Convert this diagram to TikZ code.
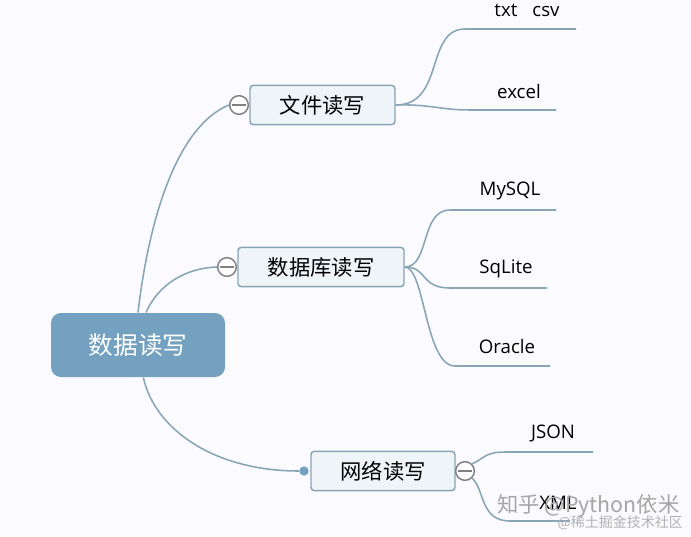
\documentclass[tikz,border=0pt]{standalone}
\usepackage{fontspec}
\setmainfont{Open Sans}
\newfontfamily\cjk{Noto Sans CJK SC}
\definecolor{rootblue}{RGB}{115,161,191}
\definecolor{linkblue}{RGB}{135,165,180}
\definecolor{boxfill}{RGB}{238,244,248}
\definecolor{markgray}{RGB}{128,128,128}
\tikzset{every picture/.style={line width=0.75pt}}
\tikzset{
	rootbox/.style={fill=rootblue,rounded corners=7.5pt,minimum width=130.5pt,minimum height=48pt,inner sep=0pt,text=white,font=\cjk\fontsize{18.5}{20}\selectfont},
	topicbox/.style={draw=linkblue,fill=boxfill,rounded corners=2.5pt,line width=1.1pt,minimum height=29.5pt,inner sep=0pt,font=\cjk\fontsize{16}{18}\selectfont},
	leaftext/.style={inner sep=0pt,font=\fontsize{14}{16}\selectfont},
	link/.style={draw=linkblue,line width=1.15pt},
	foldmark/.style={circle,draw=markgray,fill=white,line width=1.1pt,minimum size=14pt,inner sep=0pt},
	folddot/.style={circle,fill=rootblue,minimum size=7pt,inner sep=0pt},
	marktext/.style={inner sep=0pt,anchor=west}
}

\begin{document}
\begin{tikzpicture}[x=0.75pt,y=0.75pt,yscale=-1,xscale=1]
	\useasboundingbox[fill=white!98!blue] (0,0) rectangle (691,536);

	% Boxes
	\node [rootbox] (root) at (138,345) {\raisebox{-1pt}{数据读写}};
	\node [topicbox,minimum width=108.75pt] (file) at (322.5,105) {文件读写};
	\node [topicbox,minimum width=124.5pt] (db) at (321,267) {数据库读写};
	\node [topicbox,minimum width=108pt] (net) at (383,471) {\raisebox{-0.75pt}{网络读写}};

	% Fold marks
	\node [foldmark] (filefold) at (239,105) {};
	\node [foldmark] (dbfold) at (227,267) {};
	\node [foldmark] (netfold) at (465,471) {};
	\node [folddot] (netdot) at (304,471) {};
	\foreach \m in {filefold,dbfold,netfold}
		\draw [markgray,line width=1pt] ([xshift=-5pt]\m.center) -- ([xshift=5pt]\m.center);

	% Free ends
	\coordinate (txtend) at (576,29);
	\coordinate (excelend) at (556,110);
	\coordinate (mysqlend) at (556,210);
	\coordinate (sqliteend) at (547,288);
	\coordinate (oracleend) at (550,366);
	\coordinate (jsonend) at (593,452);
	\coordinate (xmlend) at (570,521);

	% Root links
	\draw [link] (root.north) .. controls (150,210) and (180,125) .. (filefold.west);
	\draw [link] ([xshift=6pt]root.north) .. controls (158,285) and (185,268) .. (dbfold.west);
	\draw [link] ([xshift=4pt]root.south) .. controls (155,430) and (215,471) .. (netdot.west);

	% Leaf links
	\draw [link] (file.east) .. controls (445,105) and (425,29) .. (465,29) -- (txtend);
	\draw [link] (file.east) .. controls (430,104) and (440,110) .. (470,110) -- (excelend);
	\draw [link] (db.east) .. controls (430,267) and (420,210) .. (450,210) -- (mysqlend);
	\draw [link] (db.east) .. controls (428,267) and (420,288) .. (450,288) -- (sqliteend);
	\draw [link] (db.east) .. controls (425,267) and (425,366) .. (455,366) -- (oracleend);
	\draw [link] (netfold.north east) .. controls (485,458) and (485,452) .. (505,452) -- (jsonend);
	\draw [link] (netfold.south east) .. controls (485,490) and (480,521) .. (510,521) -- (xmlend);

	% Text Node
	\node [leaftext] (txt) at (527,10) {txt\hspace{0.8em}csv};
	\node [leaftext] (excel) at (519,91) {excel};
	\node [leaftext] (mysql) at (510,191) {MySQL};
	\node [leaftext] (sqlite) at (506,269) {SqLite};
	\node [leaftext] (oracle) at (507,346) {Oracle};
	\node [leaftext] (json) at (553,433) {JSON};
	\node [leaftext] (xml) at (558,503) {XML};

	% Watermark
	\node [marktext,text=black!35,font=\cjk\fontsize{16}{18}\selectfont] (markone) at (497,506) {知乎 @Python依米};
	\node [marktext,text=black!30,font=\cjk\fontsize{10.5}{12}\selectfont] (marktwo) at (557,523) {@稀土掘金技术社区};
\end{tikzpicture}
\end{document}
